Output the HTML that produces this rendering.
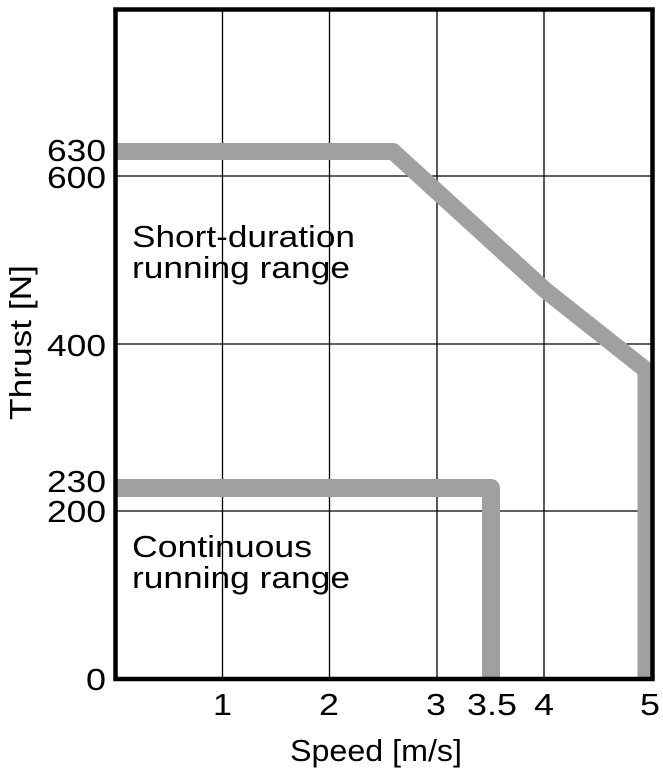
<!DOCTYPE html>
<html><head><meta charset="utf-8"><style>body{margin:0;background:#fff}svg{display:block}text{font-family:"Liberation Sans",sans-serif;fill:#000}</style></head><body>
<svg width="663" height="774" viewBox="0 0 663 774">
<g stroke="#000" stroke-width="1.3">
<line x1="222.5" y1="9" x2="222.5" y2="679"/><line x1="329.5" y1="9" x2="329.5" y2="679"/><line x1="437" y1="9" x2="437" y2="679"/><line x1="544" y1="9" x2="544" y2="679"/>
<line x1="115" y1="176" x2="653" y2="176"/><line x1="115" y1="344" x2="653" y2="344"/><line x1="115" y1="511" x2="653" y2="511"/>
</g>
<g fill="none" stroke="#a0a0a0" stroke-linejoin="round">
<polyline points="115,151.5 393,151.5 545,290 646,370 646,679" stroke-width="17"/>
<polyline points="115,488 491,488 491,679" stroke-width="18"/>
</g>
<rect x="115.5" y="9.5" width="537" height="669.5" fill="none" stroke="#000" stroke-width="4.5"/>
<g font-size="31" lengthAdjust="spacingAndGlyphs">
<text x="47" y="161" textLength="59" lengthAdjust="spacingAndGlyphs">630</text>
<text x="47" y="188" textLength="59" lengthAdjust="spacingAndGlyphs">600</text>
<text x="47" y="356" textLength="59" lengthAdjust="spacingAndGlyphs">400</text>
<text x="47" y="492" textLength="59" lengthAdjust="spacingAndGlyphs">230</text>
<text x="47" y="522" textLength="59" lengthAdjust="spacingAndGlyphs">200</text>
<text x="86" y="690" textLength="20" lengthAdjust="spacingAndGlyphs">0</text>
<text x="213" y="715" textLength="19" lengthAdjust="spacingAndGlyphs">1</text>
<text x="319" y="715" textLength="20" lengthAdjust="spacingAndGlyphs">2</text>
<text x="426" y="715" textLength="20" lengthAdjust="spacingAndGlyphs">3</text>
<text x="467" y="715" textLength="50" lengthAdjust="spacingAndGlyphs">3.5</text>
<text x="534" y="715" textLength="20" lengthAdjust="spacingAndGlyphs">4</text>
<text x="640" y="715" textLength="20" lengthAdjust="spacingAndGlyphs">5</text>
<text x="290" y="761" textLength="172" lengthAdjust="spacingAndGlyphs">Speed [m/s]</text>
<text transform="translate(31,420) rotate(-90)" textLength="155" lengthAdjust="spacingAndGlyphs">Thrust [N]</text>
<text x="132" y="247" textLength="223" lengthAdjust="spacingAndGlyphs">Short-duration</text>
<text x="132" y="278" textLength="218" lengthAdjust="spacingAndGlyphs">running range</text>
<text x="132" y="557" textLength="180" lengthAdjust="spacingAndGlyphs">Continuous</text>
<text x="132" y="588" textLength="218" lengthAdjust="spacingAndGlyphs">running range</text>
</g>
</svg>
</body></html>
